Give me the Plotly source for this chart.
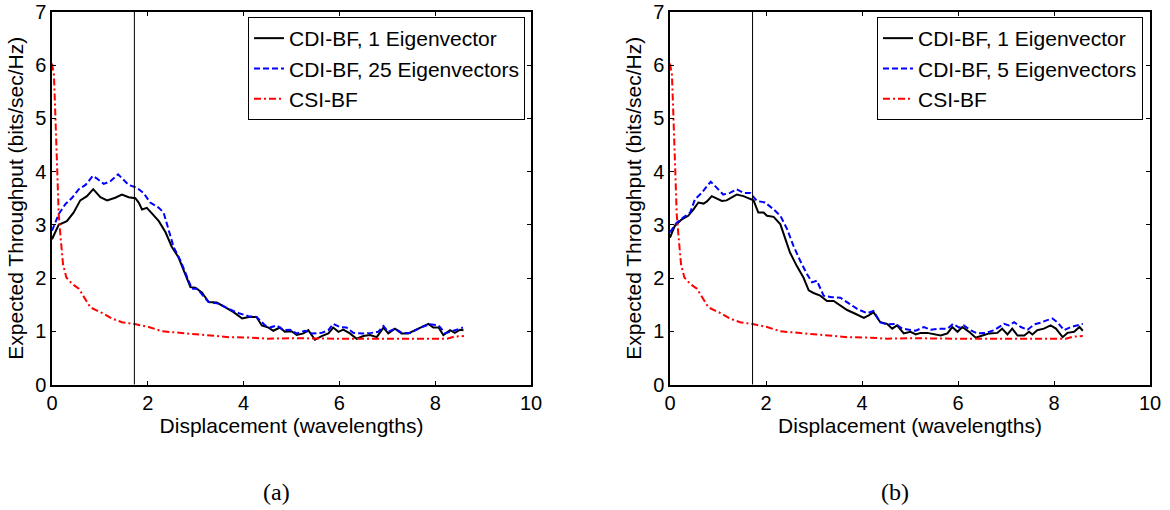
import plotly.graph_objects as go

# ---------------- data ----------------
# (a) CDI-BF, 1 Eigenvector
a1_x = [0, 0.14, 0.31, 0.45, 0.59, 0.73, 0.86, 1.01, 1.15, 1.32, 1.46, 1.60, 1.74, 1.81, 1.88, 1.98,
        2.09, 2.23, 2.37, 2.50, 2.64, 2.78, 2.89, 2.99, 3.13, 3.27, 3.44, 3.62, 3.79, 3.97, 4.11,
        4.27, 4.38, 4.52, 4.62, 4.76, 4.86, 5.00, 5.11, 5.25, 5.35, 5.49, 5.63, 5.77, 5.87, 5.98,
        6.08, 6.22, 6.36, 6.50, 6.64, 6.78, 6.92, 7.02, 7.16, 7.30, 7.44, 7.58, 7.72, 7.86, 7.96,
        8.07, 8.17, 8.31, 8.41, 8.52, 8.59]
a1_y = [2.73, 3.00, 3.07, 3.23, 3.46, 3.54, 3.67, 3.52, 3.46, 3.51, 3.57, 3.52, 3.50, 3.42, 3.29, 3.32,
        3.21, 3.07, 2.86, 2.59, 2.39, 2.08, 1.83, 1.82, 1.73, 1.55, 1.54, 1.45, 1.36, 1.24, 1.27,
        1.27, 1.11, 1.07, 1.01, 1.07, 0.99, 1.00, 0.93, 0.96, 1.02, 0.84, 0.91, 0.96, 1.07, 0.99,
        1.03, 0.96, 0.86, 0.91, 0.93, 0.89, 1.07, 0.96, 1.05, 0.96, 0.96, 1.02, 1.08, 1.14, 1.07,
        1.07, 0.93, 1.02, 0.97, 1.03, 1.02]

# (a) CDI-BF, 25 Eigenvectors
a25_x = [0, 0.14, 0.28, 0.42, 0.56, 0.70, 0.85, 0.94, 1.08, 1.22, 1.38, 1.50, 1.60, 1.77, 1.91, 2.05,
         2.23, 2.33, 2.44, 2.54, 2.68, 2.82, 2.92, 3.03, 3.27, 3.48, 3.69, 3.90, 4.11, 4.27, 4.45,
         4.55, 4.69, 4.83, 4.97, 5.11, 5.28, 5.42, 5.63, 5.77, 5.87, 6.01, 6.15, 6.29, 6.50, 6.67,
         6.81, 6.92, 7.02, 7.16, 7.30, 7.48, 7.62, 7.75, 7.89, 8.07, 8.21, 8.31, 8.45, 8.58]
a25_y = [2.89, 3.20, 3.39, 3.51, 3.67, 3.75, 3.92, 3.87, 3.77, 3.82, 3.95, 3.85, 3.75, 3.70, 3.60, 3.42,
         3.32, 3.23, 2.89, 2.58, 2.33, 2.02, 1.80, 1.80, 1.55, 1.52, 1.42, 1.34, 1.28, 1.27, 1.11,
         1.07, 1.11, 1.02, 1.03, 0.96, 1.01, 0.96, 0.97, 1.02, 1.14, 1.08, 1.07, 0.97, 0.96, 0.97,
         0.99, 1.10, 0.99, 1.05, 0.97, 0.97, 1.03, 1.09, 1.13, 1.11, 0.96, 0.99, 1.02, 1.07]

# (b) CDI-BF, 1 Eigenvector
b1_x = [0, 0.10, 0.24, 0.38, 0.49, 0.59, 0.70, 0.77, 0.87, 0.97, 1.08, 1.18, 1.29, 1.39, 1.53, 1.64,
        1.74, 1.84, 1.95, 2.02, 2.16, 2.30, 2.40, 2.50, 2.64, 2.78, 2.89, 2.99, 3.13, 3.27, 3.41,
        3.55, 3.69, 3.86, 4.04, 4.14, 4.24, 4.38, 4.52, 4.63, 4.73, 4.87, 5.01, 5.12, 5.22, 5.36,
        5.50, 5.64, 5.78, 5.88, 5.99, 6.09, 6.23, 6.37, 6.51, 6.65, 6.82, 6.92, 7.03, 7.13, 7.24,
        7.38, 7.48, 7.55, 7.65, 7.79, 7.93, 8.04, 8.18, 8.28, 8.42, 8.53, 8.60]
b1_y = [2.76, 2.98, 3.10, 3.17, 3.29, 3.42, 3.40, 3.44, 3.54, 3.50, 3.45, 3.46, 3.51, 3.57, 3.54, 3.50,
        3.46, 3.23, 3.23, 3.17, 3.15, 3.01, 2.76, 2.48, 2.23, 2.01, 1.77, 1.72, 1.67, 1.57, 1.57,
        1.49, 1.40, 1.33, 1.25, 1.30, 1.36, 1.17, 1.14, 1.05, 1.11, 0.96, 0.99, 0.94, 0.97, 0.97,
        0.94, 0.92, 0.96, 1.08, 0.99, 1.08, 0.99, 0.88, 0.92, 0.96, 0.97, 1.05, 0.94, 1.05, 0.92,
        0.92, 0.99, 0.94, 1.02, 1.05, 1.11, 1.05, 0.89, 0.97, 0.99, 1.08, 1.01]

# (b) CDI-BF, 5 Eigenvectors
b5_x = [0, 0.14, 0.28, 0.42, 0.52, 0.66, 0.77, 0.85, 0.97, 1.11, 1.25, 1.39, 1.53, 1.67, 1.81, 1.98,
        2.16, 2.30, 2.44, 2.57, 2.71, 2.85, 2.96, 3.06, 3.20, 3.37, 3.55, 3.69, 3.90, 4.11, 4.24,
        4.38, 4.52, 4.70, 4.84, 4.98, 5.12, 5.29, 5.43, 5.60, 5.78, 5.90, 6.02, 6.12, 6.26, 6.40,
        6.58, 6.75, 6.85, 6.96, 7.06, 7.17, 7.31, 7.45, 7.59, 7.72, 7.86, 7.97, 8.07, 8.21, 8.35,
        8.49, 8.60]
b5_y = [2.86, 3.04, 3.14, 3.23, 3.48, 3.60, 3.73, 3.81, 3.70, 3.57, 3.60, 3.67, 3.60, 3.60, 3.45, 3.42,
        3.29, 3.17, 2.92, 2.61, 2.33, 2.08, 1.92, 1.95, 1.67, 1.64, 1.63, 1.55, 1.42, 1.34, 1.38,
        1.17, 1.13, 1.14, 1.05, 1.03, 1.01, 1.08, 1.03, 1.05, 1.05, 1.14, 1.07, 1.11, 1.02, 0.96,
        0.97, 1.02, 1.07, 1.14, 1.11, 1.17, 1.08, 1.03, 1.13, 1.16, 1.21, 1.24, 1.17, 1.02, 1.08,
        1.11, 1.14]

# CSI-BF (same in both panels)
csi_x = [0, 0.04, 0.07, 0.10, 0.14, 0.18, 0.23, 0.30, 0.42, 0.56, 0.70, 0.80, 0.94, 1.08, 1.25, 1.46,
         1.70, 2.02, 2.30, 2.64, 2.99, 3.34, 3.69, 4.17, 4.52, 5.00, 5.50, 6.00, 6.50, 7.00, 7.50,
         8.00, 8.25, 8.40, 8.60]
csi_y = [6.03, 5.82, 5.07, 4.13, 3.20, 2.76, 2.26, 2.01, 1.89, 1.80, 1.61, 1.45, 1.39, 1.33, 1.24, 1.17,
         1.14, 1.08, 1.00, 0.97, 0.94, 0.91, 0.89, 0.88, 0.86, 0.87, 0.86, 0.86, 0.86, 0.86, 0.87,
         0.86, 0.86, 0.90, 0.91]

marker_x = 1.72
x_ticks = [0, 2, 4, 6, 8, 10]
y_ticks = [0, 1, 2, 3, 4, 5, 6, 7]
names_a = ["CDI-BF, 1 Eigenvector", "CDI-BF, 25 Eigenvectors", "CSI-BF"]
names_b = ["CDI-BF, 1 Eigenvector", "CDI-BF, 5 Eigenvectors", "CSI-BF"]
captions = ["(a)", "(b)"]
x_title = "Displacement (wavelengths)"
y_title = "Expected Throughput (bits/sec/Hz)"

# ---------------- figure ----------------
fig = go.Figure()
W = 2
styles = [dict(color="#000000", width=W, dash="solid"),
          dict(color="#0000FF", width=W, dash="6px,3px"),
          dict(color="#FF0000", width=W, dash="7px,3px,2px,3px")]

panels = [
    ("x", "y", "legend", names_a, [(a1_x, a1_y), (a25_x, a25_y), (csi_x, csi_y)]),
    ("x2", "y2", "legend2", names_b, [(b1_x, b1_y), (b5_x, b5_y), (csi_x, csi_y)]),
]
for xa, ya, lg, names, series in panels:
    for (sx, sy), nm, st in zip(series, names, styles):
        fig.add_trace(go.Scatter(x=sx, y=sy, mode="lines", name=nm, line=st,
                                 xaxis=xa, yaxis=ya, legend=lg, showlegend=True))
    fig.add_shape(type="line", xref=xa, yref=ya + " domain", x0=marker_x, x1=marker_x,
                  y0=0, y1=1, line=dict(color="black", width=1))

font = "Liberation Sans, Arial, sans-serif"
ax_common = dict(showline=True, linecolor="black", linewidth=1.5, mirror="allticks",
                 ticks="inside", ticklen=4, tickwidth=1, tickcolor="black",
                 showgrid=False, zeroline=False, automargin=False,
                 ticklabeloverflow="allow",
                 tickfont=dict(family=font, size=20, color="black"))
tfont = dict(family=font, size=21, color="black")
lfont = dict(family=font, size=21, color="black")
ydom = [(510 - 384.5) / 510, (510 - 12) / 510]

fig.update_layout(
    width=1170, height=510, margin=dict(l=0, r=0, t=0, b=0, autoexpand=False),
    paper_bgcolor="white", plot_bgcolor="white",
    xaxis=dict(domain=[52 / 1170, 531 / 1170], range=[0, 10], tickvals=x_ticks, anchor="y",
               title=dict(text=x_title, font=tfont, standoff=2), **ax_common),
    yaxis=dict(domain=ydom, range=[0, 7], tickvals=y_ticks, anchor="x",
               title=dict(text=y_title, font=tfont, standoff=6), **ax_common),
    xaxis2=dict(domain=[670 / 1170, 1150 / 1170], range=[0, 10], tickvals=x_ticks, anchor="y2",
                title=dict(text=x_title, font=tfont, standoff=2), **ax_common),
    yaxis2=dict(domain=ydom, range=[0, 7], tickvals=y_ticks, anchor="x2",
                title=dict(text=y_title, font=tfont, standoff=6), **ax_common),
    legend=dict(x=525 / 1170, y=1 - 17 / 510, xanchor="right", yanchor="top",
                bgcolor="white", bordercolor="black", borderwidth=1,
                font=lfont, tracegroupgap=0),
    legend2=dict(x=1143 / 1170, y=1 - 17 / 510, xanchor="right", yanchor="top",
                 bgcolor="white", bordercolor="black", borderwidth=1,
                 font=lfont, tracegroupgap=0),
    showlegend=True,
)

for cap, cx in zip(captions, [276 / 1170, 895 / 1170]):
    fig.add_annotation(text=cap, x=cx, y=1 - 492 / 510, xref="paper", yref="paper",
                       xanchor="center", yanchor="middle", showarrow=False,
                       font=dict(family="Liberation Serif, Times New Roman, serif",
                                 size=24, color="black"))

fig.write_html("out.html")
